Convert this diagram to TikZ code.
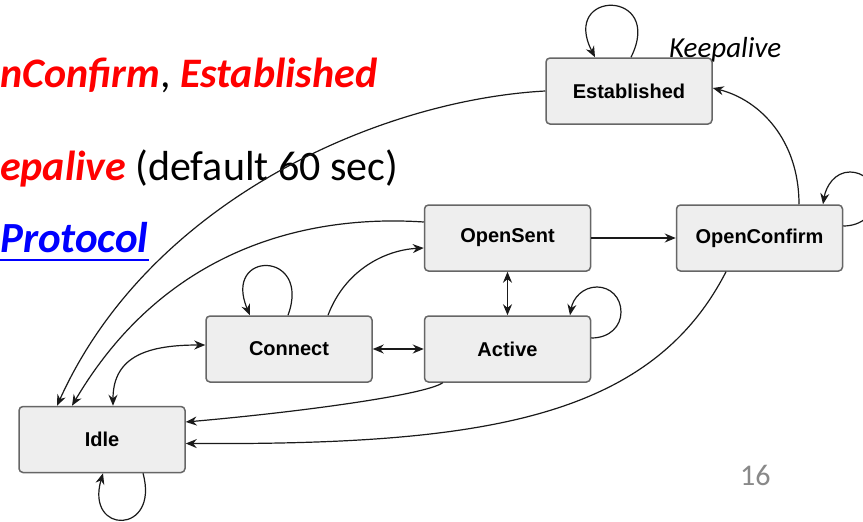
\documentclass[tikz,border=0pt]{standalone}
\usepackage{fontspec}
\setmainfont{Carlito}
\newfontfamily\boxfont{Liberation Sans}
\usetikzlibrary{arrows.meta,calc}
\definecolor{boxfill}{HTML}{EEEEEE}
\definecolor{boxline}{HTML}{666666}
\definecolor{slidered}{HTML}{FF0000}
\definecolor{slideblue}{HTML}{0000FF}
\definecolor{pagegray}{HTML}{898989}
\definecolor{linecol}{HTML}{1A1A1A}
\tikzset{
  statebox/.style={draw=boxline, fill=boxfill, line width=1.5pt, rounded corners=4pt,
    minimum width=166pt, minimum height=66pt, inner sep=0pt,
    font=\boxfont\bfseries\fontsize{20}{24}\selectfont},
  conn/.style={line width=1.2pt, draw=linecol},
  arr/.style={conn, -{Stealth[length=11pt,width=9pt]}},
  darr/.style={conn, {Stealth[length=11pt,width=9pt]}-{Stealth[length=11pt,width=9pt]}},
  slidetext/.style={anchor=base west, inner sep=0pt, font=\fontsize{42}{50}\selectfont},
}
\begin{document}
\begin{tikzpicture}[x=1pt,y=-1pt]
\useasboundingbox (0,0) rectangle (863,522);
\clip (0,0) rectangle (863,522);
\fill[white] (0,0) rectangle (863,522);

% slide text behind the diagram
\node[slidetext] (l1) at (0,87) {\textcolor{slidered}{\bfseries\itshape nConfirm}, \textcolor{slidered}{\bfseries\itshape Established}};
\node[slidetext] (l2) at (0,180) {\textcolor{slidered}{\bfseries\itshape epalive} (default 60 sec)};
\node[slidetext, font=\fontsize{43}{50}\selectfont] (l3) at (0,252) {\textcolor{slideblue}{\bfseries\itshape Protocol}};
\draw[slideblue, line width=2.6pt] ($(l3.base west)+(0,8)$) -- ($(l3.base east)+(0,8)$);
\node[anchor=base west, inner sep=0pt, font=\itshape\fontsize{29}{34}\selectfont] (ka) at (669,57) {Keepalive};
\node[anchor=base west, inner sep=0pt, text=pagegray, font=\fontsize{30}{36}\selectfont] (pg) at (740,485) {16};

% states
\node[statebox] (est) at (629,91) {Established};
\node[statebox] (os) at (507.5,238) {OpenSent};
\node[statebox] (oc) at (759.5,238) {OpenConfirm};
\node[statebox] (con) at (289,349) {Connect};
\node[statebox] (act) at (507.5,349) {Active};
\node[statebox] (idle) at (102,439.5) {Idle};

% self loops
\draw[arr] ($(est.north)+(2,0)$) .. controls (665,-11) and (560,-11) .. ($(est.north)+(-34,0)$);
\draw[arr] ($(con.north)+(-1,0)$) .. controls (312,250) and (222,250) .. ($(con.north)+(-39,0)$);
\draw[arr] ($(act.east)+(0,-11)$) .. controls (610,338) and (621,326) .. (621,312)
  .. controls (621,297) and (610,287) .. (597,287)
  .. controls (583,287) and (573,298) .. ($(act.north)+(62.5,0)$);
\draw[arr] ($(oc.east)+(0,-12)$) .. controls (862,226) and (875,214) .. (875,198)
  .. controls (875,182) and (863,172) .. (850,172)
  .. controls (835,172) and (826,186) .. ($(oc.north)+(63.5,0)$);
\draw[arr] ($(idle.south)+(41,0)$) .. controls (160,535) and (85,535) .. ($(idle.south)+(1,0)$);

% transitions
\draw[arr] (est.west) .. controls (380,100) and (150,200) .. ($(idle.north)+(-45,0)$);
\draw[arr] ($(os.west)+(0,-16)$) .. controls (320,215) and (170,240) .. ($(idle.north)+(-30,0)$);
\draw[darr] ($(idle.north)+(11,0)$) .. controls (113,355) and (150,345) .. ($(con.west)+(0,-4)$);
\draw[arr] ($(con.north)+(39,0)$) .. controls (345,270) and (385,250) .. ($(os.west)+(0,10)$);
\draw[darr] (con.east) -- (act.west);
\draw[darr] (os.south) -- (act.north);
\draw[arr] (os.east) -- (oc.west);
\draw[arr] ($(oc.north)+(39.5,0)$) .. controls (799,140) and (760,100) .. ($(est.east)+(0,-3)$);
\draw[arr] ($(act.south west)+(19,0)$) .. controls (425,395) and (300,412) .. ($(idle.east)+(0,-17.5)$);
\draw[arr] ($(oc.south)+(-33.5,0)$) .. controls (650,420) and (480,445) .. ($(idle.east)+(0,4)$);
\end{tikzpicture}
\end{document}
